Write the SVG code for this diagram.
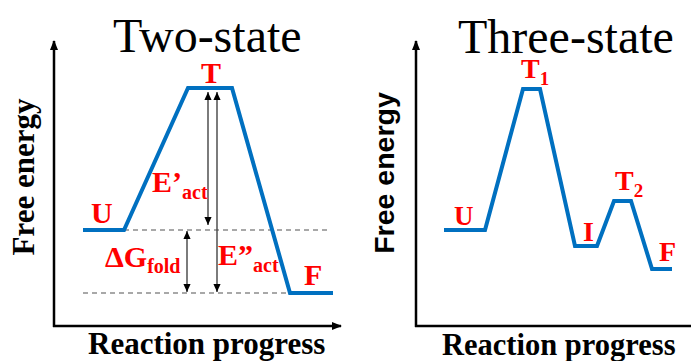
<svg xmlns="http://www.w3.org/2000/svg" width="691" height="361" viewBox="0 0 691 361">
<style>
.title{font-family:"Liberation Serif","Times New Roman",serif;font-size:48px;fill:#000}
.axlab{font-family:"Liberation Serif","Times New Roman",serif;font-weight:bold;font-size:31px;fill:#000}
.axlabs{font-family:"Liberation Sans",Arial,sans-serif;font-weight:bold;font-size:28.5px;fill:#000}
.lab{font-family:"Liberation Serif","Times New Roman",serif;font-weight:bold;font-size:30px;fill:#FF0000}
.sub{font-size:20px}
.axis{stroke:#000;stroke-width:2.5;fill:none}
.curve{stroke:#0070C0;stroke-width:4;fill:none;stroke-linejoin:miter}
.dash{stroke:#8c8c8c;stroke-width:1.3;stroke-dasharray:5 4;fill:none}
.dim{stroke:#444;stroke-width:1.4;fill:none}
</style>
<defs>
<marker id="axhead" markerWidth="10" markerHeight="10" viewBox="0 0 10 10" refX="9" refY="5" orient="auto" markerUnits="userSpaceOnUse">
<path d="M0,1 L10,5 L0,9 Z" fill="#000"/>
</marker>
<marker id="dimhead" markerWidth="8" markerHeight="9" viewBox="0 0 9 8" refX="9" refY="4" orient="auto-start-reverse" markerUnits="userSpaceOnUse">
<path d="M0,0 L9,4 L0,8 Z" fill="#000"/>
</marker>
</defs>

<g id="title-two"><text class="title" x="113" y="52">Two-state</text></g>
<g id="title-three"><text class="title" x="458" y="53">Three-state</text></g>

<g id="axes-left">
<line class="axis" x1="54" y1="327" x2="54" y2="41" marker-end="url(#axhead)"/>
<line class="axis" x1="53" y1="326" x2="341" y2="326" marker-end="url(#axhead)"/>
<text class="axlab" transform="translate(34,177) rotate(-90)" text-anchor="middle">Free energy</text>
<text class="axlab" x="88" y="354">Reaction progress</text>
</g>
<g id="axes-right">
<line class="axis" x1="416" y1="327" x2="416" y2="41" marker-end="url(#axhead)"/>
<line class="axis" x1="415" y1="326" x2="700" y2="326"/>
<text class="axlabs" transform="translate(394,173) rotate(-90)" text-anchor="middle">Free energy</text>
<text class="axlab" x="442" y="355" style="font-size:30.5px">Reaction progress</text>
</g>

<g id="connectors">
<line class="dash" x1="124" y1="230" x2="330" y2="230"/>
<line class="dash" x1="83" y1="293" x2="290" y2="293"/>
<line class="dim" x1="208" y1="92" x2="208" y2="225" marker-start="url(#dimhead)" marker-end="url(#dimhead)"/>
<line class="dim" x1="217" y1="92" x2="217" y2="292" marker-start="url(#dimhead)" marker-end="url(#dimhead)"/>
<line class="dim" x1="187" y1="231" x2="187" y2="292" marker-start="url(#dimhead)" marker-end="url(#dimhead)"/>
</g>

<g id="curve-two">
<polyline class="curve" points="83,230 124,230 188,88 232,88 290,293 333,293"/>
</g>
<g id="curve-three">
<polyline class="curve" points="444,230 485,230 523,89 540,89 575,246 597,246 614,201 631,201 652,269 672,269"/>
</g>

<g id="node-U-left"><text class="lab" x="91" y="223">U</text></g>
<g id="node-T-left"><text class="lab" x="211" y="83" text-anchor="middle">T</text></g>
<g id="node-F-left"><text class="lab" x="304" y="285">F</text></g>
<g id="label-Eact1"><text class="lab" x="152" y="192">E’<tspan class="sub" dy="7">act</tspan></text></g>
<g id="label-Eact2"><text class="lab" x="218" y="265">E”<tspan class="sub" dy="7">act</tspan></text></g>
<g id="label-dG"><text class="lab" x="105" y="267">ΔG<tspan class="sub" dy="6">fold</tspan></text></g>

<g id="node-U-right"><text class="lab" x="454" y="225" style="font-size:27px">U</text></g>
<g id="node-T1"><text class="lab" x="521" y="78" style="font-size:28px">T<tspan class="sub" dy="7" style="font-size:19px">1</tspan></text></g>
<g id="node-I"><text class="lab" x="583" y="241" style="font-size:28px">I</text></g>
<g id="node-T2"><text class="lab" x="615" y="190" style="font-size:28px">T<tspan class="sub" dy="7" style="font-size:19px">2</tspan></text></g>
<g id="node-F-right"><text class="lab" x="659" y="261" style="font-size:28px">F</text></g>
</svg>
